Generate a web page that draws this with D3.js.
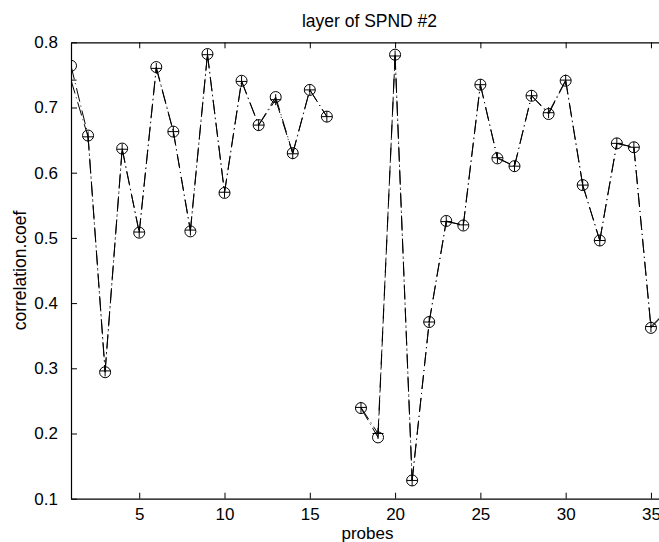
<!DOCTYPE html>
<html>
<head>
<meta charset="utf-8">
<script src="https://cdn.jsdelivr.net/npm/d3@7"></script>
<style>
  html, body { margin: 0; padding: 0; background: #fff; }
  svg { display: block; }
  text { font-family: "Liberation Sans", Arial, Helvetica, sans-serif; fill: #000; }
</style>
</head>
<body>
<svg id="chart" width="659" height="542"></svg>
<script>
// ---- data ----
const probes = d3.range(1, 37);
const circleValues = [0.764, 0.657, 0.294, 0.637, 0.508, 0.762, 0.663, 0.510, 0.782, 0.569,
  0.741, 0.673, 0.716, 0.630, 0.727, 0.686, null, 0.239, 0.194, 0.781,
  0.128, 0.371, 0.526, 0.519, 0.735, 0.622, 0.610, 0.718, 0.690, 0.741,
  0.581, 0.496, 0.645, 0.639, 0.362, 0.390];
const plusValues = [0.742, 0.655, 0.296, 0.636, 0.509, 0.760, 0.663, 0.512, 0.781, 0.570,
  0.740, 0.673, 0.712, 0.629, 0.727, 0.686, null, 0.240, 0.200, 0.779,
  0.128, 0.371, 0.525, 0.520, 0.735, 0.623, 0.610, 0.718, 0.692, 0.742,
  0.581, 0.496, 0.645, 0.639, 0.364, 0.390];
const xTicks = [5, 10, 15, 20, 25, 30, 35];
const yTicks = [0.1, 0.2, 0.3, 0.4, 0.5, 0.6, 0.7, 0.8];
const titleText = "layer of SPND #2";
const xLabel = "probes";
const yLabel = "correlation.coef";

// ---- layout ----
const mLeft = 71, mRight = 668, mTop = 42.3, mBottom = 498.7;
const svg = d3.select("#chart");
const x = d3.scaleLinear().domain([1, 36]).range([mLeft, mRight]);
const y = d3.scaleLinear().domain([0.1, 0.8]).range([mBottom, mTop]);

svg.append("rect").attr("width", 659).attr("height", 542).attr("fill", "#fff");

svg.append("defs").append("clipPath").attr("id", "plotclip")
  .append("rect").attr("x", mLeft).attr("y", mTop).attr("width", mRight - mLeft).attr("height", mBottom - mTop);

const plot = svg.append("g").attr("clip-path", "url(#plotclip)");

const line = d3.line().x(d => x(d.p)).y(d => y(d.v));

const circleData = probes.map((p, i) => ({p, v: circleValues[i]}));
const plusData = probes.map((p, i) => ({p, v: plusValues[i]}));

// dash-dot line drawn segment by segment, so the dash pattern restarts at each point
[circleData, plusData].forEach(data => {
  const segs = d3.pairs(data).filter(([a, b]) => a.v !== null && b.v !== null);
  plot.selectAll(null).data(segs).enter().append("path")
    .attr("d", d => line(d))
    .attr("fill", "none").attr("stroke", "#000").attr("stroke-width", 1)
    .attr("stroke-dasharray", "14,4,1,4");
});

// circle markers
plot.selectAll("circle.m").data(circleData.filter(d => d.v !== null)).enter()
  .append("circle").attr("class", "m")
  .attr("cx", d => x(d.p)).attr("cy", d => y(d.v)).attr("r", 5.5)
  .attr("fill", "none").attr("stroke", "#000").attr("stroke-width", 1);

// plus markers
const ps = 5.5;
plot.selectAll("path.plus").data(plusData.filter(d => d.v !== null)).enter()
  .append("path").attr("class", "plus")
  .attr("d", d => {
    const cx = x(d.p), cy = y(d.v);
    return `M${cx - ps},${cy}H${cx + ps}M${cx},${cy - ps}V${cy + ps}`;
  })
  .attr("fill", "none").attr("stroke", "#000").attr("stroke-width", 1);

// ---- axes (MATLAB-style box, inward ticks) ----
const xAxisB = d3.axisBottom(x).tickValues(xTicks).tickSizeInner(-6).tickSizeOuter(0).tickPadding(9)
  .tickFormat(d3.format("d"));
const gxb = svg.append("g").attr("transform", `translate(0,${mBottom})`).call(xAxisB);
const xAxisT = d3.axisTop(x).tickValues(xTicks).tickSizeInner(-6).tickSizeOuter(0).tickFormat("");
const gxt = svg.append("g").attr("transform", `translate(0,${mTop})`).call(xAxisT);
const yAxisL = d3.axisLeft(y).tickValues(yTicks).tickSizeInner(-6).tickSizeOuter(0).tickPadding(13)
  .tickFormat(d3.format(".1f"));
const gyl = svg.append("g").attr("transform", `translate(${mLeft},0)`).call(yAxisL);
const yAxisR = d3.axisRight(y).tickValues(yTicks).tickSizeInner(-6).tickSizeOuter(0).tickFormat("");
const gyr = svg.append("g").attr("transform", `translate(${mRight},0)`).call(yAxisR);

[gxb, gxt, gyl, gyr].forEach(g => {
  g.selectAll("path.domain").attr("stroke", "#000").attr("stroke-width", 1.2);
  g.selectAll(".tick line").attr("stroke", "#000").attr("stroke-width", 1);
  g.selectAll(".tick text").attr("font-size", 17).attr("fill", "#000")
    .attr("font-family", "'Liberation Sans', Arial, sans-serif");
});

// ---- labels ----
svg.append("text").attr("x", (mLeft + mRight) / 2).attr("y", 26.5)
  .attr("text-anchor", "middle").attr("font-size", 17.5).text(titleText);
svg.append("text").attr("x", (mLeft + mRight) / 2 - 2).attr("y", 539)
  .attr("text-anchor", "middle").attr("font-size", 17).text(xLabel);
svg.append("text").attr("transform", `translate(25.5,${(mTop + mBottom) / 2}) rotate(-90)`)
  .attr("text-anchor", "middle").attr("font-size", 17.5).text(yLabel);
</script>
</body>
</html>
